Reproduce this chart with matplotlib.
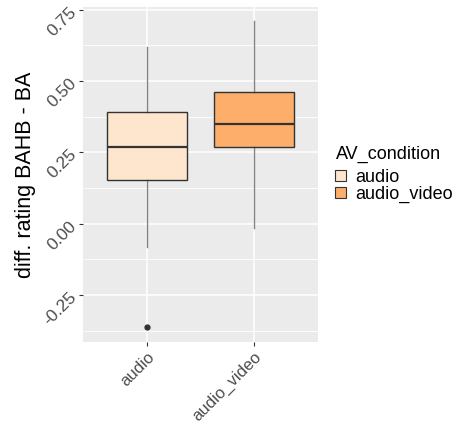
import numpy as np
import matplotlib
matplotlib.use('Agg')
from matplotlib import pyplot as plt
from matplotlib.patches import Patch

# Dữ liệu
categories = ['audio', 'audio_video']
whisker_low = [-0.080, -0.015]
q1 = [0.152, 0.267]
medians = [0.270, 0.349]
q3 = [0.391, 0.463]
whisker_high = [0.618, 0.709]
outliers = [[-0.362], []]
colors = ['#FEE6CE', '#FDAE6B']

plt.rcParams['font.family'] = ['Liberation Sans', 'DejaVu Sans']

fig = plt.figure(figsize=(4.58, 4.25), dpi=100)
ax = fig.add_axes([0.181, 0.195, 0.513, 0.789])
ax.set_facecolor('#EBEBEB')

stats = []
for i, c in enumerate(categories):
    stats.append(dict(label=c, whislo=whisker_low[i], q1=q1[i], med=medians[i],
                      q3=q3[i], whishi=whisker_high[i], fliers=outliers[i]))

bp = ax.bxp(stats, positions=[1, 2], widths=0.75, patch_artist=True,
            showcaps=False,
            boxprops=dict(edgecolor='#333333', linewidth=1.0),
            medianprops=dict(color='#333333', linewidth=1.6),
            whiskerprops=dict(color='#333333', linewidth=1.0),
            flierprops=dict(marker='o', markerfacecolor='#333333',
                            markeredgecolor='#333333', markersize=3.5))
for patch, col in zip(bp['boxes'], colors):
    patch.set_facecolor(col)
for w in bp['whiskers']:
    w.set_alpha(0.6)

ax.set_xlim(0.4, 2.6)
ax.set_ylim(-0.415, 0.76)
ax.set_yticks([-0.25, 0.0, 0.25, 0.5, 0.75])
ax.set_yticklabels(['-0.25', '0.00', '0.25', '0.50', '0.75'], rotation=45,
                   va='center', ha='right', rotation_mode='anchor')
ax.set_yticks([-0.375, -0.125, 0.125, 0.375, 0.625], minor=True)
ax.set_xticks([1, 2])
ax.set_xticklabels(categories, rotation=45, ha='right', rotation_mode='anchor')
ax.tick_params(axis='both', which='major', colors='#333333', labelcolor='#4D4D4D',
               labelsize=12.5, length=3, width=0.8)
ax.tick_params(axis='x', which='major', labelsize=12, pad=2)
ax.tick_params(axis='both', which='minor', length=0)
ax.grid(True, which='major', color='white', linewidth=1.1)
ax.grid(True, which='minor', color='white', linewidth=0.6)
ax.set_axisbelow(True)
for s in ax.spines.values():
    s.set_visible(False)

ax.set_ylabel('diff. rating BAHB - BA', fontsize=15.5, labelpad=3)

handles = [Patch(facecolor=c, edgecolor='#333333', linewidth=0.8) for c in colors]
leg = fig.legend(handles, categories, title='AV_condition', loc='upper left',
                 bbox_to_anchor=(0.697, 0.695), frameon=False, fontsize=13,
                 title_fontsize=13, handlelength=0.6, handleheight=0.6,
                 handletextpad=0.5, labelspacing=0.0)
leg._legend_box.align = 'left'
leg._legend_box.sep = 4

fig.savefig('out.png', dpi=100)
